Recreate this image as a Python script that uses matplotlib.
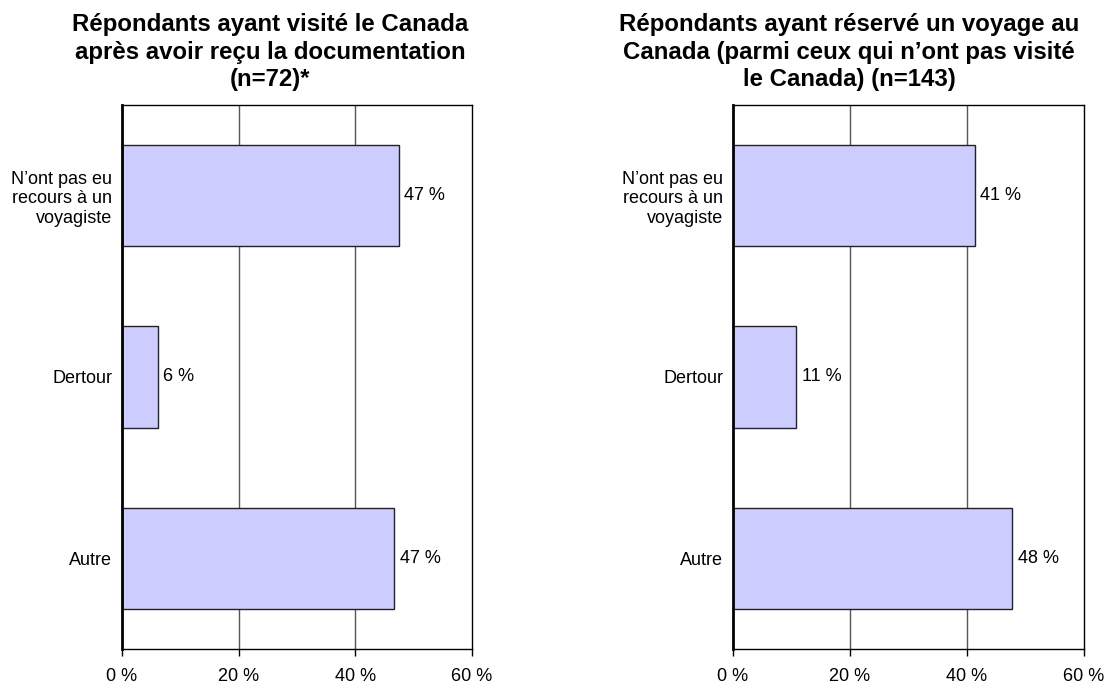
import matplotlib
matplotlib.use("Agg")
import matplotlib.pyplot as plt

plt.rcParams['font.family'] = ['Liberation Sans', 'DejaVu Sans']

# donnees
categories = ["N\u2019ont pas eu\nrecours à un\nvoyagiste", "Dertour", "Autre"]
valeurs_gauche = [47.4, 6.1, 46.7]
valeurs_droite = [41.3, 10.8, 47.7]
etiquettes_gauche = ["47 %", "6 %", "47 %"]
etiquettes_droite = ["41 %", "11 %", "48 %"]
titre_gauche = "Répondants ayant visité le Canada\naprès avoir reçu la documentation\n(n=72)*"
titre_droite = "Répondants ayant réservé un voyage au\nCanada (parmi ceux qui n\u2019ont pas visité\nle Canada) (n=143)"
ticks_x = [0, 20, 40, 60]
ticks_lbl = ["0 %", "20 %", "40 %", "60 %"]

W, H = 1119, 686
fig = plt.figure(figsize=(W / 100, H / 100), dpi=100)

def dessine(ax, valeurs, etiquettes):
    y = list(range(len(categories)))
    ax.barh(y, valeurs, height=0.56, color='#ccccff', edgecolor='#222222', linewidth=1.0, zorder=3)
    for yi, v, e in zip(y, valeurs, etiquettes):
        ax.text(v + 1.0, yi, e, va='center', ha='left', fontsize=13)
    ax.set_xlim(0, 60)
    ax.set_ylim(2.5, -0.5)
    ax.set_xticks(ticks_x)
    ax.set_xticklabels(ticks_lbl, fontsize=13)
    ax.set_yticks(y)
    ax.set_yticklabels(categories, fontsize=13, linespacing=1.2)
    ax.tick_params(axis='y', length=0, pad=7)
    ax.tick_params(axis='x', length=5, width=1, pad=9, direction='out')
    for xv in [20, 40]:
        ax.axvline(xv, color='#555555', linewidth=1, zorder=1)
    for s in ['top', 'right', 'bottom']:
        ax.spines[s].set_linewidth(1)
        ax.spines[s].set_color('black')
    ax.spines['left'].set_linewidth(2)
    ax.spines['left'].set_zorder(4)

ax1 = fig.add_axes([122 / W, 1 - 649 / H, 350 / W, 544 / H])
dessine(ax1, valeurs_gauche, etiquettes_gauche)
ax2 = fig.add_axes([733 / W, 1 - 649 / H, 351 / W, 544 / H])
dessine(ax2, valeurs_droite, etiquettes_droite)

# titres (centres un peu a gauche des axes, comme dans l'original)
fig.text(270 / W, 1 - 13 / H, titre_gauche, ha='center', va='top', fontsize=17.3,
         fontweight='bold', linespacing=1.25)
fig.text(849 / W, 1 - 13 / H, titre_droite, ha='center', va='top', fontsize=17.3,
         fontweight='bold', linespacing=1.25)

fig.savefig("out.png", dpi=100)
